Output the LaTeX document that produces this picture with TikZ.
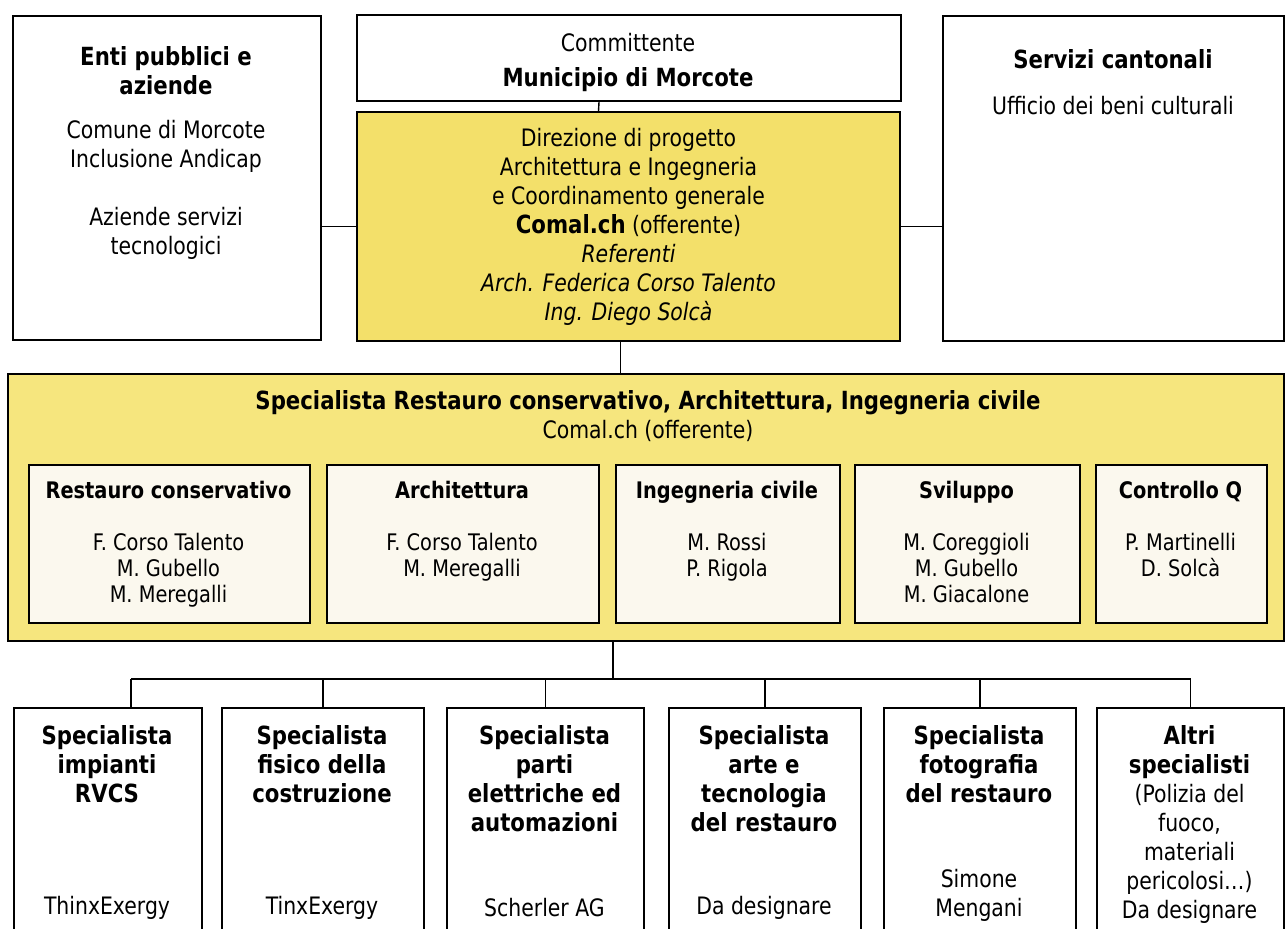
\documentclass[tikz,border=0pt]{standalone}
\usepackage{fontspec}
\setmainfont{DejaVu Sans}[FakeStretch=0.85]
\usepackage{xcolor}
\usepackage{tikz}
\usetikzlibrary{positioning}
\definecolor{dirgiallo}{HTML}{F3E06A}
\definecolor{specgiallo}{HTML}{F6E67E}
\definecolor{crema}{HTML}{FBF8EE}
\newcommand{\hd}[1]{{\fontsize{12.5}{14.5}\selectfont\bfseries #1}}

\begin{document}
\begin{tikzpicture}[x=0.5pt, y=-0.5pt]
\tikzstyle{box}=[draw, line width=1pt, inner sep=0pt, anchor=north west, fill=white]
\tikzstyle{txt}=[align=center, inner sep=0pt, font=\fontsize{12}{14.5}\selectfont]
\tikzstyle{small}=[align=center, inner sep=0pt, anchor=north, font=\fontsize{11.4}{13}\selectfont]
\tikzstyle{link}=[line width=0.7pt]
\useasboundingbox (0,0) rectangle (1285,928);
\clip (0,0) rectangle (1285,928);

% upper row
\node[box, minimum width=154pt, minimum height=162pt] (enti) at (12,15) {};
\node[box, minimum width=272pt, minimum height=43pt] (comm) at (356,14) {};
\node[box, minimum width=271.5pt, minimum height=114.5pt, txt, fill=dirgiallo] (dir) at (356,111)
  {Direzione di progetto\\Architettura e Ingegneria\\e Coordinamento generale\\
   \hd{Comal.ch} (offerente)\\
   \itshape Referenti\\\itshape Arch. Federica Corso Talento\\\itshape Ing. Diego Solcà};
\node[box, minimum width=170.5pt, minimum height=162.5pt] (serv) at (942,15) {};

\node[txt] (commT) at (628,62) {Committente\\[3pt]\hd{Municipio di Morcote}};
\node[txt] (entiT) at (166,153)
  {\hd{Enti pubblici e}\\\hd{aziende}\\[7.5pt]
   Comune di Morcote\\Inclusione Andicap\\[14.5pt]Aziende servizi\\tecnologici};
\node[txt] (servT) at (1113,82)
  {\hd{Servizi cantonali}\\[8.5pt]Ufficio dei beni culturali};

% specialista
\node[box, minimum width=638pt, minimum height=133.5pt, fill=specgiallo] (spec) at (7,373) {};
\node[txt] (specT) at (648,416)
  {\hd{Specialista Restauro conservativo, Architettura, Ingegneria civile}\\Comal.ch (offerente)};

\node[box, minimum width=140.5pt, minimum height=79pt, fill=crema] (r1) at (28,464) {};
\node[box, minimum width=136pt, minimum height=79pt, fill=crema] (r2) at (326,464) {};
\node[box, minimum width=112pt, minimum height=79pt, fill=crema] (r3) at (615,464) {};
\node[box, minimum width=112.5pt, minimum height=79pt, fill=crema] (r4) at (854,464) {};
\node[box, minimum width=85.5pt, minimum height=79pt, fill=crema] (r5) at (1095,464) {};

\node[small] (r1T) at (168.5,481) {\textbf{Restauro conservativo}\\[13pt]F. Corso Talento\\M. Gubello\\M. Meregalli};
\node[small] (r2T) at (462,481) {\textbf{Architettura}\\[13pt]F. Corso Talento\\M. Meregalli};
\node[small] (r3T) at (727,481) {\textbf{Ingegneria civile}\\[13pt]M. Rossi\\P. Rigola};
\node[small] (r4T) at (966.5,481) {\textbf{Sviluppo}\\[13pt]M. Coreggioli\\M. Gubello\\M. Giacalone};
\node[small] (r5T) at (1180.5,481) {\textbf{Controllo Q}\\[13pt]P. Martinelli\\D. Solcà};

% lower row
\node[box, minimum width=94pt, minimum height=119pt] (s1) at (13,707) {};
\node[box, minimum width=101pt, minimum height=119pt] (s2) at (221,707) {};
\node[box, minimum width=98.5pt, minimum height=119pt] (s3) at (446,707) {};
\node[box, minimum width=96pt, minimum height=119pt] (s4) at (668,707) {};
\node[box, minimum width=96pt, minimum height=119pt] (s5) at (883,707) {};
\node[box, minimum width=93.5pt, minimum height=119pt] (s6) at (1096,707) {};

\tikzstyle{head}=[txt, anchor=north, font=\fontsize{12.5}{14.5}\selectfont\bfseries]
\node[head] (s1T) at (107,725) {Specialista\\impianti\\RVCS};
\node[head] (s2T) at (322,725) {Specialista\\fisico della\\costruzione};
\node[head] (s3T) at (544.5,725) {Specialista\\parti\\elettriche ed\\automazioni};
\node[head] (s4T) at (764,725) {Specialista\\arte e\\tecnologia\\del restauro};
\node[head] (s5T) at (979,725) {Specialista\\fotografia\\del restauro};
\node[txt, anchor=north] (s6T) at (1189.5,725) {\hd{Altri}\\\hd{specialisti}\\
  (Polizia del\\fuoco,\\materiali\\pericolosi…)\\Da designare};

\node[txt] (s1N) at (107,908) {ThinxExergy};
\node[txt] (s2N) at (322,908) {TinxExergy};
\node[txt] (s3N) at (544.5,908) {Scherler AG};
\node[txt] (s4N) at (764,908) {Da designare};
\node[txt] (s5N) at (979,895) {Simone\\Mengani};

% connectors
\coordinate (hub) at (613,679);
\draw[link] (enti.east |- dir.west) -- (dir.west);
\draw[link] (dir.east) -- (dir.east -| serv.west);
\draw[link] ([xshift=-15pt]comm.south) -- ([xshift=-15pt]dir.north);
\draw[link] ([xshift=-4pt]dir.south) -- ([xshift=-4pt]dir.south |- spec.north);
\draw[link] (hub |- spec.south) -- (hub);
\draw[link] ([xshift=11.5pt]s1.north |- hub) -- (s6.north |- hub);
\draw[link] ([xshift=11.5pt]s1.north) -- ([xshift=11.5pt]s1.north |- hub);
\foreach \s in {s2,s3,s4,s5,s6}
  \draw[link] (\s.north) -- (\s.north |- hub);

\end{tikzpicture}
\end{document}
